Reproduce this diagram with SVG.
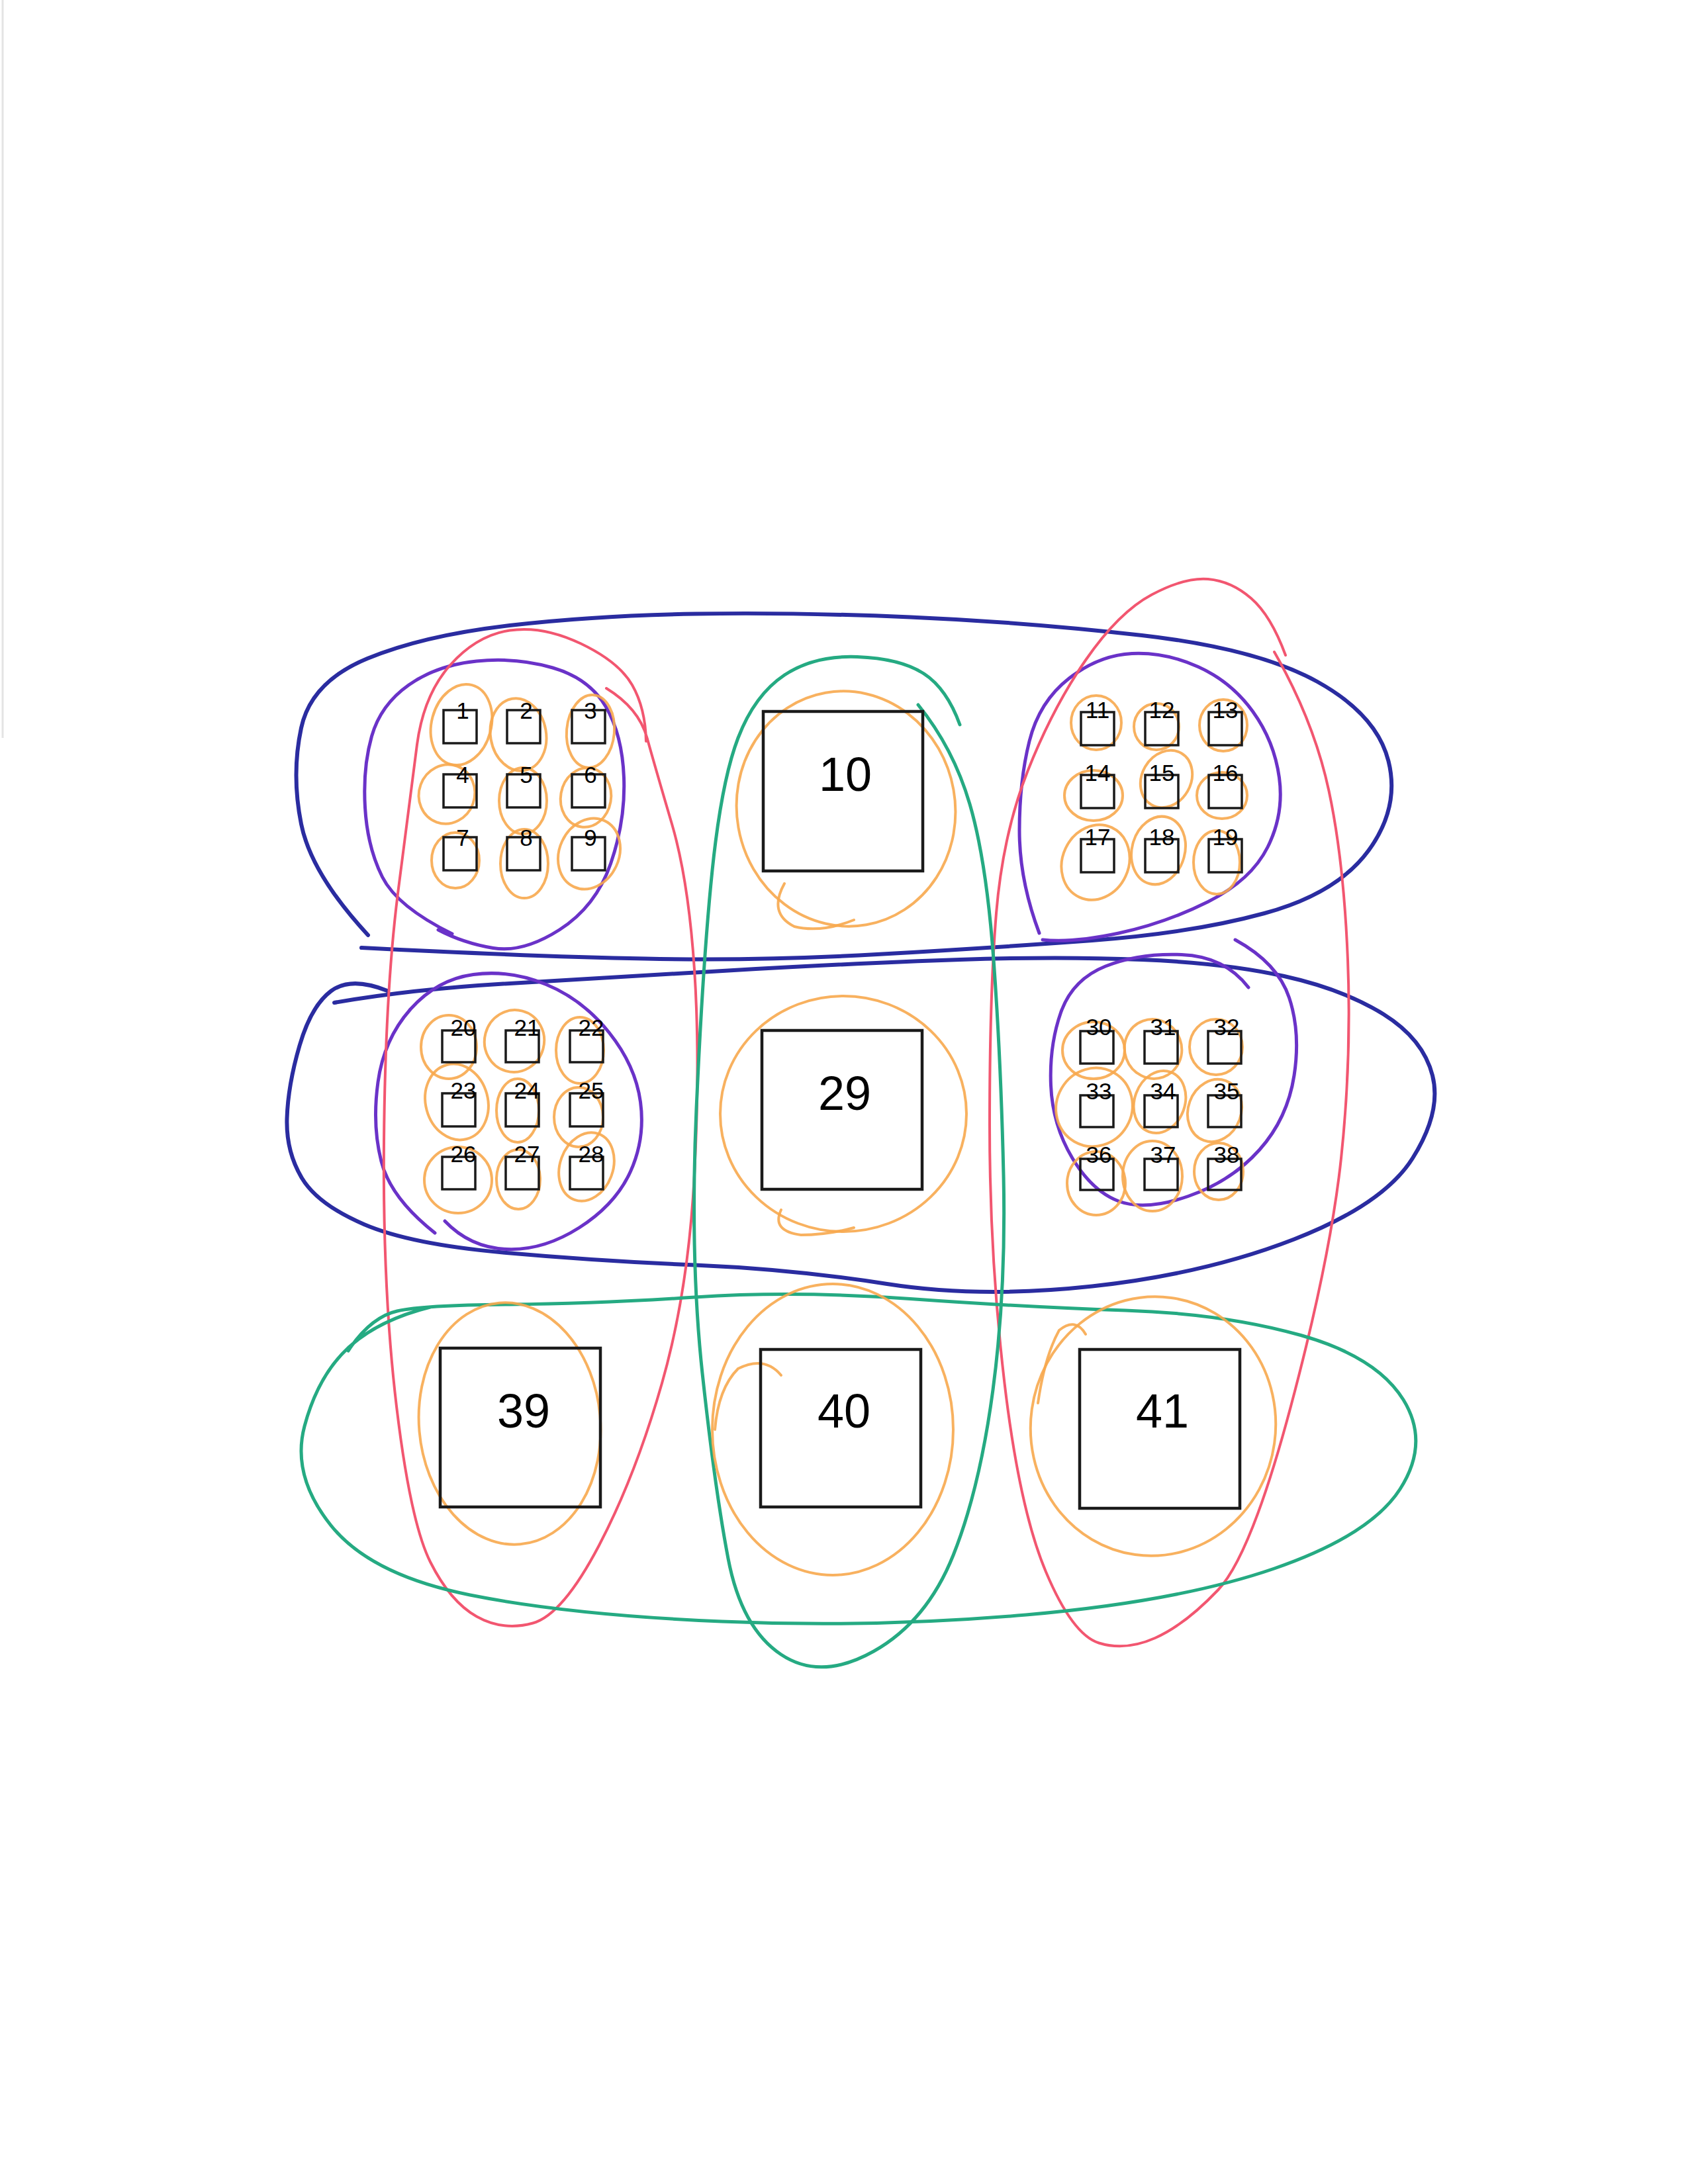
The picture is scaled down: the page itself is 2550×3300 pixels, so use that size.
<svg xmlns="http://www.w3.org/2000/svg" width="2550" height="3300" viewBox="0 0 2550 3300">
<style>
.bg{fill:#ffffff}
.loop{fill:none;stroke-linecap:round;stroke-linejoin:round}
.blue{stroke:#2a2ca0;stroke-width:6}
.purple{stroke:#6a32c8;stroke-width:5}
.red{stroke:#f25670;stroke-width:4}
.green{stroke:#25aa82;stroke-width:5}
.orange{fill:none;stroke:#f7a84e;stroke-width:4;stroke-opacity:0.9;stroke-linecap:round}
.box{fill:none;stroke:#1a1a1a;stroke-width:4.5}
.sbox{fill:none;stroke:#1a1a1a;stroke-width:3.5}
.big{font-family:"Liberation Sans",Arial,sans-serif;font-size:72px;fill:#000;text-anchor:middle}
.small{font-family:"Liberation Sans",Arial,sans-serif;font-size:35px;fill:#000;text-anchor:middle}
</style>
<rect class="bg" x="0" y="0" width="2550" height="3300"/>
<line x1="4" y1="0" x2="4" y2="1115" stroke="#e4e4e4" stroke-width="3"/>
<g id="connectors">
  <path id="blue-1" class="loop blue" d="M556,1413 Q470,1320 455,1245 Q440,1170 455,1100 Q470,1030 555,995 Q640,960 770,945 Q900,930 1050,927.5 Q1200,925 1375,932.5 Q1550,940 1725,960 Q1900,980 1990,1030 Q2080,1080 2097.5,1150 Q2115,1220 2067.5,1285 Q2020,1350 1910,1380 Q1800,1410 1650,1421 Q1500,1432 1325,1442 Q1150,1452 975,1448.5 Q800,1445 546,1432"/>
  <path id="blue-2" class="loop blue" d="M585,1497 Q530,1475 500,1497.5 Q470,1520 452.5,1580 Q435,1640 433.5,1690 Q432,1740 456,1780 Q480,1820 550,1850 Q620,1880 760,1892.5 Q900,1905 1050,1911.5 Q1200,1918 1340,1940 Q1480,1962 1650,1943.5 Q1820,1925 1955,1872.5 Q2090,1820 2134,1750 Q2178,1680 2164,1625 Q2150,1570 2090,1532.5 Q2030,1495 1940,1475 Q1850,1455 1725,1450 Q1600,1445 1450,1450 Q1300,1455 1100,1466.5 Q900,1478 760,1486.5 Q620,1495 505,1515"/>
  <path id="purple-1" class="loop purple" d="M683,1411 Q600,1370 577.5,1325 Q555,1280 551.5,1220 Q548,1160 561.5,1112.5 Q575,1065 617.5,1035 Q660,1005 720,999 Q780,993 835,1009 Q890,1025 915,1067.5 Q940,1110 942.5,1175 Q945,1240 922.5,1305 Q900,1370 845,1405 Q790,1440 745,1432.5 Q700,1425 662,1405"/>
  <path id="purple-2" class="loop purple" d="M1570,1410 Q1540,1330 1540,1255 Q1540,1180 1555,1120 Q1570,1060 1615,1025 Q1660,990 1710,987.5 Q1760,985 1810,1007.5 Q1860,1030 1892.5,1075 Q1925,1120 1932.5,1175 Q1940,1230 1915,1280 Q1890,1330 1825,1362.5 Q1760,1395 1690,1410 Q1620,1425 1575,1420"/>
  <path id="purple-3" class="loop purple" d="M657,1863 Q590,1810 576,1755 Q562,1700 571,1635 Q580,1570 620,1525 Q660,1480 715,1472.5 Q770,1465 825,1487.5 Q880,1510 920,1560 Q960,1610 967.5,1665 Q975,1720 952.5,1770 Q930,1820 875,1855 Q820,1890 765,1887.5 Q710,1885 672,1845"/>
  <path id="purple-4" class="loop purple" d="M1886,1492 Q1850,1445 1785,1442.5 Q1720,1440 1670,1460 Q1620,1480 1602.5,1530 Q1585,1580 1587.5,1640 Q1590,1700 1620,1750 Q1650,1800 1690,1815 Q1730,1830 1795,1807.5 Q1860,1785 1902.5,1737.5 Q1945,1690 1955,1625 Q1965,1560 1947.5,1507.5 Q1930,1455 1866,1420"/>
  <path id="red-1" class="loop red" d="M916,1040 Q965,1070 977.5,1115 Q990,1160 1015,1245 Q1040,1330 1049,1465 Q1058,1600 1049,1775 Q1040,1950 1000,2090 Q960,2230 905,2335 Q850,2440 805,2452.5 Q760,2465 720,2442.5 Q680,2420 650,2360 Q620,2300 599,2125 Q578,1950 580,1725 Q582,1500 601,1350 Q620,1200 630,1125 Q640,1050 680,1005 Q720,960 770,952.5 Q820,945 877.5,972.5 Q935,1000 955,1035 Q975,1070 976,1120"/>
  <path id="red-2" class="loop red" d="M1942,990 Q1920,930 1890,904 Q1860,878 1825,875 Q1790,872 1740,898.5 Q1690,925 1640,997.5 Q1590,1070 1552.5,1165 Q1515,1260 1505,1380 Q1495,1500 1495,1700 Q1495,1900 1517.5,2090 Q1540,2280 1580,2375 Q1620,2470 1660,2482.5 Q1700,2495 1745,2475 Q1790,2455 1840,2402.5 Q1890,2350 1950,2125 Q2010,1900 2026,1750 Q2042,1600 2036,1450 Q2030,1300 2007.5,1195 Q1985,1090 1925,985"/>
  <path id="green-1" class="loop green" d="M1387,1065 Q1440,1130 1465,1215 Q1490,1300 1501,1450 Q1512,1600 1516,1775 Q1520,1950 1500,2100 Q1480,2250 1440,2350 Q1400,2450 1320,2495 Q1240,2540 1180,2500 Q1120,2460 1100,2355 Q1080,2250 1061,2075 Q1042,1900 1052,1675 Q1062,1450 1076,1315 Q1090,1180 1115,1115 Q1140,1050 1185,1020 Q1230,990 1295,992.5 Q1360,995 1395,1017.5 Q1430,1040 1450,1095"/>
  <path id="green-2" class="loop green" d="M526,2041 Q560,1990 600,1981 Q640,1972 770,1971 Q900,1970 1050,1960 Q1200,1950 1375,1962.5 Q1550,1975 1700,1980 Q1850,1985 1965,2017.5 Q2080,2050 2120,2115 Q2160,2180 2115,2250 Q2070,2320 1925,2370 Q1780,2420 1550,2440 Q1320,2460 1090,2450 Q860,2440 710,2410 Q560,2380 500,2305 Q440,2230 460,2155 Q480,2080 525,2037.5 Q570,1995 650,1975"/>
  <g id="orange-loops">
    <ellipse class="orange" cx="1278" cy="1222" rx="165" ry="178" transform="rotate(-10 1278 1222)"/>
    <path class="orange" d="M1185,1335 Q1160,1380 1200,1400 Q1240,1410 1290,1390"/>
    <ellipse class="orange" cx="1274" cy="1683" rx="186" ry="178"/>
    <path class="orange" d="M1180,1828 Q1165,1860 1210,1866 Q1250,1866 1290,1855"/>
    <ellipse class="orange" cx="770" cy="2151" rx="137" ry="183" transform="rotate(-5 770 2151)"/>
    <ellipse class="orange" cx="1258" cy="2160" rx="182" ry="220"/>
    <path class="orange" d="M1180,2078 Q1155,2048 1115,2068 Q1085,2098 1080,2160"/>
    <ellipse class="orange" cx="1742" cy="2155" rx="185" ry="196" transform="rotate(8 1742 2155)"/>
    <path class="orange" d="M1640,2016 Q1625,1990 1600,2010 Q1578,2050 1568,2120"/>
    <ellipse class="orange" cx="697" cy="1095" rx="45" ry="62" transform="rotate(15 697 1095)"/>
    <ellipse class="orange" cx="783" cy="1110" rx="42" ry="55" transform="rotate(-10 783 1110)"/>
    <ellipse class="orange" cx="892" cy="1105" rx="36" ry="55" transform="rotate(5 892 1105)"/>
    <ellipse class="orange" cx="675" cy="1200" rx="42" ry="45" transform="rotate(20 675 1200)"/>
    <ellipse class="orange" cx="790" cy="1210" rx="36" ry="50"/>
    <ellipse class="orange" cx="885" cy="1205" rx="38" ry="45" transform="rotate(10 885 1205)"/>
    <ellipse class="orange" cx="688" cy="1300" rx="36" ry="42"/>
    <ellipse class="orange" cx="792" cy="1305" rx="36" ry="52"/>
    <ellipse class="orange" cx="890" cy="1290" rx="45" ry="55" transform="rotate(25 890 1290)"/>
    <ellipse class="orange" cx="1656" cy="1092" rx="38" ry="41"/>
    <ellipse class="orange" cx="1747" cy="1098" rx="34" ry="35"/>
    <ellipse class="orange" cx="1848" cy="1096" rx="36" ry="39"/>
    <ellipse class="orange" cx="1652" cy="1202" rx="44" ry="38"/>
    <ellipse class="orange" cx="1762" cy="1177" rx="37" ry="45" transform="rotate(30 1762 1177)"/>
    <ellipse class="orange" cx="1846" cy="1202" rx="38" ry="35"/>
    <ellipse class="orange" cx="1655" cy="1303" rx="50" ry="58" transform="rotate(25 1655 1303)"/>
    <ellipse class="orange" cx="1750" cy="1285" rx="40" ry="52" transform="rotate(15 1750 1285)"/>
    <ellipse class="orange" cx="1838" cy="1303" rx="35" ry="48"/>
    <ellipse class="orange" cx="678" cy="1582" rx="42" ry="48"/>
    <ellipse class="orange" cx="777" cy="1573" rx="45" ry="47" transform="rotate(15 777 1573)"/>
    <ellipse class="orange" cx="876" cy="1587" rx="36" ry="50"/>
    <ellipse class="orange" cx="690" cy="1665" rx="47" ry="58" transform="rotate(-15 690 1665)"/>
    <ellipse class="orange" cx="782" cy="1678" rx="32" ry="48"/>
    <ellipse class="orange" cx="874" cy="1688" rx="37" ry="45"/>
    <ellipse class="orange" cx="692" cy="1783" rx="51" ry="50"/>
    <ellipse class="orange" cx="783" cy="1782" rx="33" ry="45"/>
    <ellipse class="orange" cx="886" cy="1763" rx="40" ry="53" transform="rotate(20 886 1763)"/>
    <ellipse class="orange" cx="1652" cy="1587" rx="47" ry="43"/>
    <ellipse class="orange" cx="1742" cy="1585" rx="43" ry="45" transform="rotate(-20 1742 1585)"/>
    <ellipse class="orange" cx="1837" cy="1582" rx="40" ry="42"/>
    <ellipse class="orange" cx="1653" cy="1673" rx="57" ry="60" transform="rotate(30 1653 1673)"/>
    <ellipse class="orange" cx="1752" cy="1665" rx="38" ry="48" transform="rotate(20 1752 1665)"/>
    <ellipse class="orange" cx="1835" cy="1678" rx="40" ry="48" transform="rotate(20 1835 1678)"/>
    <ellipse class="orange" cx="1656" cy="1788" rx="44" ry="48"/>
    <ellipse class="orange" cx="1741" cy="1777" rx="45" ry="53"/>
    <ellipse class="orange" cx="1841" cy="1770" rx="37" ry="43"/>
  </g>
</g>
<g id="nodes">
  <g id="n10"><rect class="box" x="1153" y="1075" width="241" height="241"/><text class="big" x="1277" y="1195">10</text></g>
  <g id="n29"><rect class="box" x="1151" y="1557" width="242" height="240"/><text class="big" x="1276" y="1677">29</text></g>
  <g id="n39"><rect class="box" x="665" y="2037" width="242" height="240"/><text class="big" x="791" y="2157">39</text></g>
  <g id="n40"><rect class="box" x="1149" y="2039" width="242" height="238"/><text class="big" x="1275" y="2157">40</text></g>
  <g id="n41"><rect class="box" x="1631" y="2039" width="242" height="240"/><text class="big" x="1756" y="2157">41</text></g>

  <g id="n1"><rect class="sbox" x="670" y="1073" width="50" height="50"/><text class="small" x="699" y="1086">1</text></g>
  <g id="n2"><rect class="sbox" x="766" y="1073" width="50" height="50"/><text class="small" x="795" y="1086">2</text></g>
  <g id="n3"><rect class="sbox" x="864" y="1073" width="50" height="50"/><text class="small" x="892" y="1086">3</text></g>
  <g id="n4"><rect class="sbox" x="670" y="1170" width="50" height="50"/><text class="small" x="699" y="1183">4</text></g>
  <g id="n5"><rect class="sbox" x="766" y="1170" width="50" height="50"/><text class="small" x="795" y="1183">5</text></g>
  <g id="n6"><rect class="sbox" x="864" y="1170" width="50" height="50"/><text class="small" x="892" y="1183">6</text></g>
  <g id="n7"><rect class="sbox" x="670" y="1265" width="50" height="50"/><text class="small" x="699" y="1278">7</text></g>
  <g id="n8"><rect class="sbox" x="766" y="1265" width="50" height="50"/><text class="small" x="795" y="1278">8</text></g>
  <g id="n9"><rect class="sbox" x="864" y="1265" width="50" height="50"/><text class="small" x="892" y="1278">9</text></g>

  <g id="n11"><rect class="sbox" x="1633" y="1076" width="50" height="50"/><text class="small" x="1658" y="1085">11</text></g>
  <g id="n12"><rect class="sbox" x="1730" y="1076" width="50" height="50"/><text class="small" x="1755" y="1085">12</text></g>
  <g id="n13"><rect class="sbox" x="1826" y="1076" width="50" height="50"/><text class="small" x="1851" y="1085">13</text></g>
  <g id="n14"><rect class="sbox" x="1633" y="1171" width="50" height="50"/><text class="small" x="1658" y="1180">14</text></g>
  <g id="n15"><rect class="sbox" x="1730" y="1171" width="50" height="50"/><text class="small" x="1755" y="1180">15</text></g>
  <g id="n16"><rect class="sbox" x="1826" y="1171" width="50" height="50"/><text class="small" x="1851" y="1180">16</text></g>
  <g id="n17"><rect class="sbox" x="1633" y="1268" width="50" height="50"/><text class="small" x="1658" y="1277">17</text></g>
  <g id="n18"><rect class="sbox" x="1730" y="1268" width="50" height="50"/><text class="small" x="1755" y="1277">18</text></g>
  <g id="n19"><rect class="sbox" x="1826" y="1268" width="50" height="50"/><text class="small" x="1851" y="1277">19</text></g>

  <g id="n20"><rect class="sbox" x="668" y="1557" width="50" height="48"/><text class="small" x="700" y="1565">20</text></g>
  <g id="n21"><rect class="sbox" x="764" y="1557" width="50" height="48"/><text class="small" x="796" y="1565">21</text></g>
  <g id="n22"><rect class="sbox" x="861" y="1557" width="50" height="48"/><text class="small" x="893" y="1565">22</text></g>
  <g id="n23"><rect class="sbox" x="668" y="1652" width="50" height="50"/><text class="small" x="700" y="1660">23</text></g>
  <g id="n24"><rect class="sbox" x="764" y="1652" width="50" height="50"/><text class="small" x="796" y="1660">24</text></g>
  <g id="n25"><rect class="sbox" x="861" y="1652" width="50" height="50"/><text class="small" x="893" y="1660">25</text></g>
  <g id="n26"><rect class="sbox" x="668" y="1748" width="50" height="49"/><text class="small" x="700" y="1756">26</text></g>
  <g id="n27"><rect class="sbox" x="764" y="1748" width="50" height="49"/><text class="small" x="796" y="1756">27</text></g>
  <g id="n28"><rect class="sbox" x="861" y="1748" width="50" height="49"/><text class="small" x="893" y="1756">28</text></g>

  <g id="n30"><rect class="sbox" x="1632" y="1558" width="50" height="49"/><text class="small" x="1660" y="1564">30</text></g>
  <g id="n31"><rect class="sbox" x="1729" y="1558" width="50" height="49"/><text class="small" x="1757" y="1564">31</text></g>
  <g id="n32"><rect class="sbox" x="1825" y="1558" width="50" height="49"/><text class="small" x="1853" y="1564">32</text></g>
  <g id="n33"><rect class="sbox" x="1632" y="1655" width="50" height="48"/><text class="small" x="1660" y="1661">33</text></g>
  <g id="n34"><rect class="sbox" x="1729" y="1655" width="50" height="48"/><text class="small" x="1757" y="1661">34</text></g>
  <g id="n35"><rect class="sbox" x="1825" y="1655" width="50" height="48"/><text class="small" x="1853" y="1661">35</text></g>
  <g id="n36"><rect class="sbox" x="1632" y="1751" width="50" height="47"/><text class="small" x="1660" y="1757">36</text></g>
  <g id="n37"><rect class="sbox" x="1729" y="1751" width="50" height="47"/><text class="small" x="1757" y="1757">37</text></g>
  <g id="n38"><rect class="sbox" x="1825" y="1751" width="50" height="47"/><text class="small" x="1853" y="1757">38</text></g>
</g>
</svg>
